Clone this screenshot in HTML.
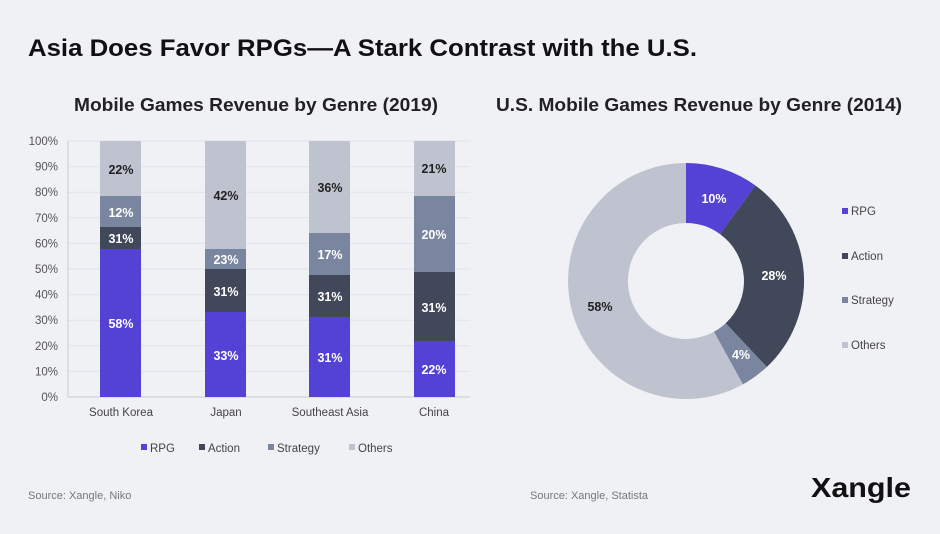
<!DOCTYPE html>
<html><head><meta charset="utf-8"><style>
body{margin:0;width:940px;height:529px;background:#f0f1f5;font-family:"Liberation Sans",sans-serif;overflow:hidden;position:relative}
</style></head><body>
<svg width="940" height="529" xmlns="http://www.w3.org/2000/svg" font-family="Liberation Sans, sans-serif">
<rect width="940" height="529" fill="#f0f1f5"/>
<text x="28" y="56" font-size="24" font-weight="bold" fill="#111" textLength="669" lengthAdjust="spacingAndGlyphs">Asia Does Favor RPGs—A Stark Contrast with the U.S.</text>
<text x="74" y="111" font-size="18" font-weight="bold" fill="#222" textLength="364" lengthAdjust="spacingAndGlyphs">Mobile Games Revenue by Genre (2019)</text>
<text x="496" y="111" font-size="18" font-weight="bold" fill="#222" textLength="406" lengthAdjust="spacingAndGlyphs">U.S. Mobile Games Revenue by Genre (2014)</text>
<g stroke="#e2e4ea" stroke-width="1">
<line x1="68" x2="470" y1="141" y2="141"/><line x1="68" x2="470" y1="166.6" y2="166.6"/><line x1="68" x2="470" y1="192.2" y2="192.2"/><line x1="68" x2="470" y1="217.8" y2="217.8"/><line x1="68" x2="470" y1="243.4" y2="243.4"/><line x1="68" x2="470" y1="269" y2="269"/><line x1="68" x2="470" y1="294.6" y2="294.6"/><line x1="68" x2="470" y1="320.2" y2="320.2"/><line x1="68" x2="470" y1="345.8" y2="345.8"/><line x1="68" x2="470" y1="371.4" y2="371.4"/>
</g>
<line x1="68" x2="68" y1="141" y2="397" stroke="#c8cad0"/>
<line x1="68" x2="470" y1="397" y2="397" stroke="#c8cad0"/>
<g font-size="11.5" fill="#555" text-anchor="end">
<text x="58" y="145">100%</text><text x="58" y="170.6">90%</text><text x="58" y="196.2">80%</text><text x="58" y="221.8">70%</text><text x="58" y="247.4">60%</text><text x="58" y="273">50%</text><text x="58" y="298.6">40%</text><text x="58" y="324.2">30%</text><text x="58" y="349.8">20%</text><text x="58" y="375.4">10%</text><text x="58" y="401">0%</text>
</g>
<g>
<rect x="100" y="141" width="41" height="55" fill="#bec3cf"/><rect x="100" y="196" width="41" height="31" fill="#7a869f"/><rect x="100" y="227" width="41" height="22" fill="#414859"/><rect x="100" y="249" width="41" height="148" fill="#5442d4"/>
<rect x="205" y="141" width="41" height="108" fill="#bec3cf"/><rect x="205" y="249" width="41" height="20" fill="#7a869f"/><rect x="205" y="269" width="41" height="43" fill="#414859"/><rect x="205" y="312" width="41" height="85" fill="#5442d4"/>
<rect x="309" y="141" width="41" height="92" fill="#bec3cf"/><rect x="309" y="233" width="41" height="42" fill="#7a869f"/><rect x="309" y="275" width="41" height="42" fill="#414859"/><rect x="309" y="317" width="41" height="80" fill="#5442d4"/>
<rect x="414" y="141" width="41" height="55" fill="#bec3cf"/><rect x="414" y="196" width="41" height="76" fill="#7a869f"/><rect x="414" y="272" width="41" height="69" fill="#414859"/><rect x="414" y="341" width="41" height="56" fill="#5442d4"/>
</g>
<g font-size="12.5" font-weight="bold" text-anchor="middle">
<text x="121" y="174" fill="#222">22%</text><text x="121" y="217" fill="#fff">12%</text><text x="121" y="243" fill="#fff">31%</text><text x="121" y="328" fill="#fff">58%</text>
<text x="226" y="200" fill="#222">42%</text><text x="226" y="264" fill="#fff">23%</text><text x="226" y="296" fill="#fff">31%</text><text x="226" y="360" fill="#fff">33%</text>
<text x="330" y="192" fill="#222">36%</text><text x="330" y="259" fill="#fff">17%</text><text x="330" y="301" fill="#fff">31%</text><text x="330" y="362" fill="#fff">31%</text>
<text x="434" y="173" fill="#222">21%</text><text x="434" y="239" fill="#fff">20%</text><text x="434" y="312" fill="#fff">31%</text><text x="434" y="374" fill="#fff">22%</text>
</g>
<g font-size="11.5" fill="#444" text-anchor="middle">
<text x="121" y="416">South Korea</text><text x="226" y="416">Japan</text><text x="330" y="416">Southeast Asia</text><text x="434" y="416">China</text>
</g>
<g font-size="11.5" fill="#444">
<rect x="141" y="444" width="6" height="6" fill="#5442d4"/><text x="150" y="452">RPG</text>
<rect x="199" y="444" width="6" height="6" fill="#414859"/><text x="208" y="452">Action</text>
<rect x="268" y="444" width="6" height="6" fill="#7a869f"/><text x="277" y="452">Strategy</text>
<rect x="349" y="444" width="6" height="6" fill="#bec3cf"/><text x="358" y="452">Others</text>
</g>
<path d="M686,163 A118,118 0 0 1 755.4,185.5 L720.1,234.1 A58,58 0 0 0 686,223 Z" fill="#5442d4"/>
<path d="M755.4,185.5 A118,118 0 0 1 766.8,367 L725.7,323.3 A58,58 0 0 0 720.1,234.1 Z" fill="#414859"/>
<path d="M766.8,367 A118,118 0 0 1 742.9,384.4 L713.9,331.8 A58,58 0 0 0 725.7,323.3 Z" fill="#7a869f"/>
<path d="M742.9,384.4 A118,118 0 1 1 686,163 L686,223 A58,58 0 1 0 713.9,331.8 Z" fill="#bec3cf"/>
<g font-size="12.5" font-weight="bold" text-anchor="middle">
<text x="714" y="203" fill="#fff">10%</text><text x="774" y="280" fill="#fff">28%</text><text x="741" y="359" fill="#fff">4%</text><text x="600" y="311" fill="#222">58%</text>
</g>
<g font-size="11.5" fill="#444">
<rect x="842" y="208" width="6" height="6" fill="#5442d4"/><text x="851" y="215">RPG</text>
<rect x="842" y="253" width="6" height="6" fill="#414859"/><text x="851" y="260">Action</text>
<rect x="842" y="297" width="6" height="6" fill="#7a869f"/><text x="851" y="304">Strategy</text>
<rect x="842" y="342" width="6" height="6" fill="#bec3cf"/><text x="851" y="349">Others</text>
</g>
<text x="28" y="499" font-size="11" fill="#777">Source: Xangle, Niko</text>
<text x="530" y="499" font-size="11" fill="#777">Source: Xangle, Statista</text>
<text x="811" y="497" font-size="28" font-weight="bold" fill="#111" textLength="100" lengthAdjust="spacingAndGlyphs">Xangle</text>
</svg>
</body></html>
